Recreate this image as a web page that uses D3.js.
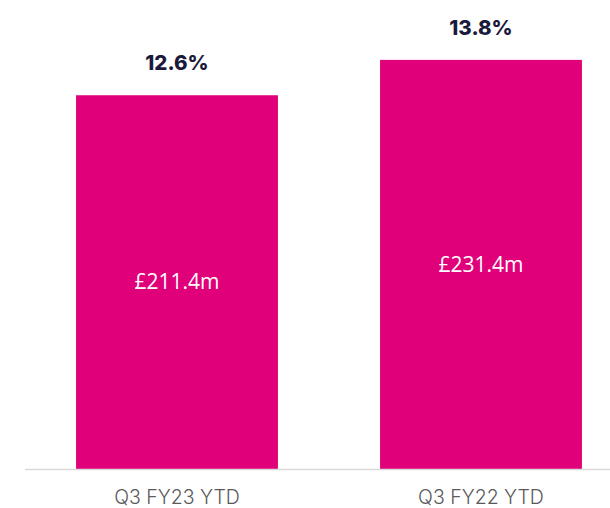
<!doctype html>
<html lang="en">
<head>
<meta charset="utf-8" />
<title>Q3 YTD</title>
<script src="https://d3js.org/d3.v7.min.js"></script>
<style>
  html, body { margin: 0; padding: 0; background: #fff; }
  svg { display: block; }
</style>
</head>
<body>
<div id="chart"></div>
<script>
// data
const periods = ["Q3 FY23 YTD", "Q3 FY22 YTD"];
const amounts = [211.4, 231.4];
const amountLabels = ["£211.4m", "£231.4m"];
const rateLabels = ["12.6%", "13.8%"];

const W = 610, H = 508;
const margin = { top: 27, bottom: 39 };
const baseline = H - margin.bottom;

const svg = d3.select("#chart").append("svg")
  .attr("width", W)
  .attr("height", H);

const x = d3.scaleBand()
  .domain(periods)
  .range([25, 633])
  .paddingInner(0.336)
  .paddingOuter(0.168);

const y = d3.scaleLinear()
  .domain([0, 250])
  .range([baseline, margin.top]);

// bars
svg.selectAll(".bar")
  .data(amounts)
  .enter().append("rect")
  .attr("class", "bar")
  .attr("x", (d, i) => x(periods[i]))
  .attr("width", x.bandwidth())
  .attr("y", d => y(d))
  .attr("height", d => baseline - y(d))
  .attr("fill", "#e0007a");

// axis line
svg.append("line")
  .attr("x1", 25).attr("x2", W)
  .attr("y1", baseline + 0.5).attr("y2", baseline + 0.5)
  .attr("stroke", "#d9d9d9")
  .attr("stroke-width", 1.5);

// value inside bars
svg.selectAll(".amt")
  .data(amounts)
  .enter().append("text")
  .attr("x", (d, i) => x(periods[i]) + x.bandwidth() / 2)
  .attr("y", d => (y(d) + baseline) / 2)
  .attr("dy", "0.35em")
  .attr("text-anchor", "middle")
  .attr("fill", "#fff")
  .style("font-family", "'Open Sans', sans-serif")
  .style("font-size", "21px")
  .text((d, i) => amountLabels[i]);

// rate above bars
svg.selectAll(".rate")
  .data(amounts)
  .enter().append("text")
  .attr("x", (d, i) => x(periods[i]) + x.bandwidth() / 2)
  .attr("y", d => y(d) - 32)
  .attr("dy", "0.35em")
  .attr("text-anchor", "middle")
  .attr("fill", "#1c1a3c")
  .style("font-family", "Inter, sans-serif")
  .style("font-weight", "800")
  .style("font-size", "20.5px")
  .text((d, i) => rateLabels[i]);

// category labels
svg.selectAll(".cat")
  .data(periods)
  .enter().append("text")
  .attr("x", d => x(d) + x.bandwidth() / 2)
  .attr("y", baseline + 28)
  .attr("dy", "0.35em")
  .attr("text-anchor", "middle")
  .attr("fill", "#595959")
  .style("font-family", "Inter, sans-serif")
  .style("font-weight", "300")
  .style("font-size", "19.5px")
  .text(d => d);
</script>
</body>
</html>
